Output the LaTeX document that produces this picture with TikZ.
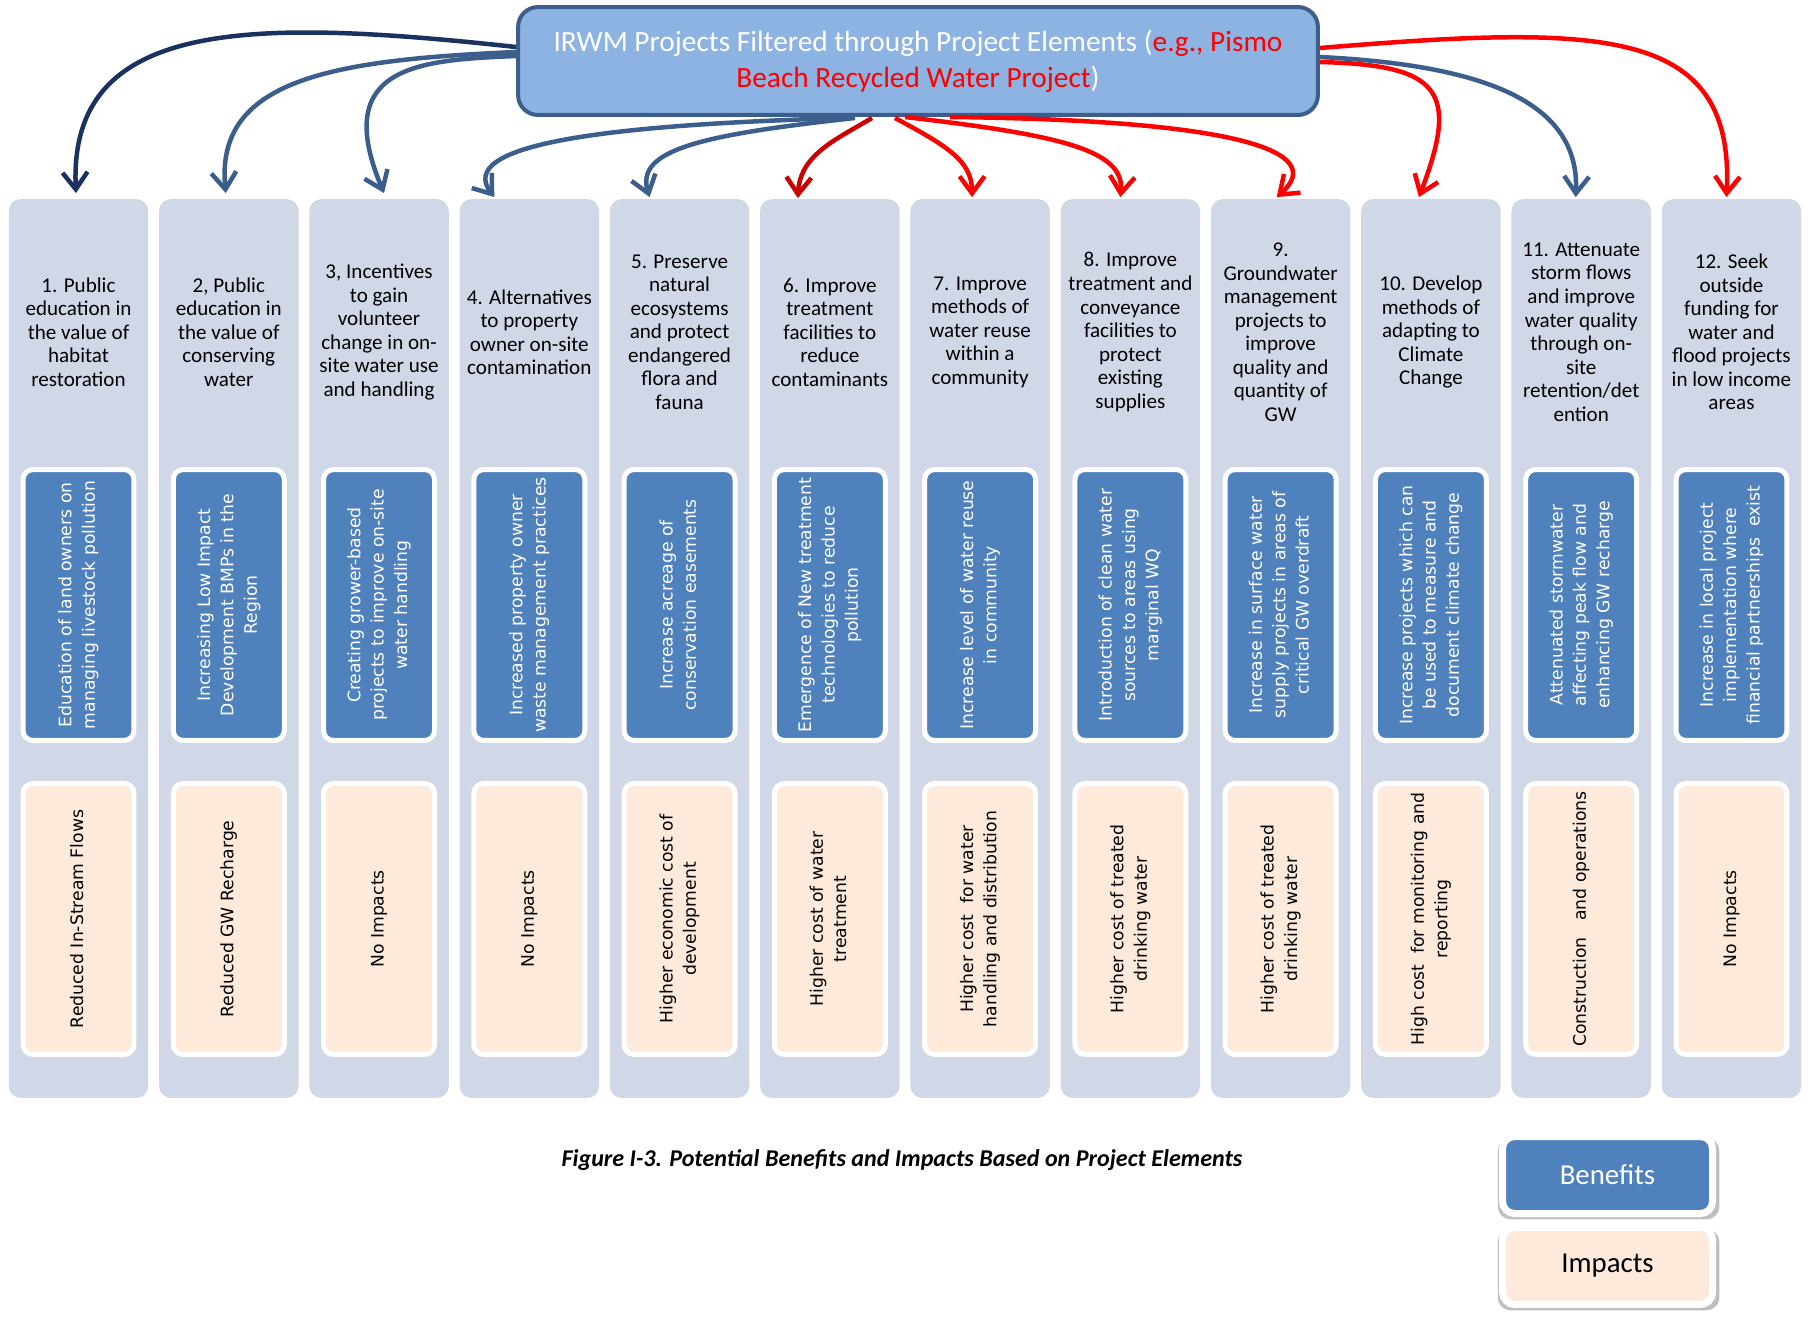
\documentclass[tikz,border=0pt]{standalone}
\usepackage{fontspec}
\setmainfont{Carlito}
\newfontfamily\boxfont{DejaVu Sans}
\usepackage{xcolor}
\usepackage{graphicx}
\usetikzlibrary{positioning}
\usetikzlibrary{calc}
\usetikzlibrary{arrows.meta}
\usetikzlibrary{shadows}

\definecolor{TitleFill}{HTML}{8DB3E2}
\definecolor{TitleLine}{HTML}{3B5E8C}
\definecolor{ColumnFill}{HTML}{D0D8E8}
\definecolor{BenefitFill}{HTML}{4F81BD}
\definecolor{ImpactFill}{HTML}{FDEADA}
\definecolor{NavyArrow}{HTML}{1B3160}
\definecolor{SteelArrow}{HTML}{3B5E8C}
\definecolor{DarkRed}{HTML}{CC0000}

\newcommand{\uptext}[1]{\rotatebox{90}{\begin{tabular}{@{}c@{}}#1\end{tabular}}}

\tikzset{
	column/.style={fill=ColumnFill, rounded corners=0.24cm, minimum width=2.79cm,
		minimum height=17.98cm, inner sep=0pt, outer sep=0pt},
	heading/.style={align=center, inner sep=0pt, font=\fontsize{12}{13.4}\selectfont},
	benefit/.style={draw=white, line width=0.1cm, fill=BenefitFill, rounded corners=0.2cm,
		minimum width=2.22cm, minimum height=5.42cm, inner sep=0pt, text=white,
		font=\boxfont\fontsize{9.8}{13.3}\selectfont},
	impact/.style={benefit, fill=ImpactFill, text=black},
	legendBox/.style={draw=white, line width=0.14cm, rounded corners=0.24cm,
		minimum width=4.2cm, minimum height=1.54cm,
		drop shadow={shadow scale=1.055, shadow xshift=0.02cm, shadow yshift=-0.07cm,
			opacity=0.25, fill=black},
		font=\fontsize{16.4}{19}\selectfont},
	arrowBase/.style={line width=0.09cm, -{Straight Barb[length=0.34cm, width=0.5cm]}},
	navyArrow/.style={arrowBase, draw=NavyArrow},
	steelArrow/.style={arrowBase, draw=SteelArrow},
	redArrow/.style={arrowBase, draw=red},
	darkRedArrow/.style={arrowBase, draw=DarkRed}
}

\begin{document}
\begin{tikzpicture}[x=0.02cm, y=-0.02cm]

\fill[white] (0,0) rectangle (1812,1316);
\useasboundingbox (0,0) rectangle (1812,1316);

\node[
	draw=TitleLine,
	line width=0.08cm,
	fill=TitleFill,
	rounded corners=0.4cm,
	minimum width=16cm,
	minimum height=2.16cm,
	text=white,
	align=center,
	font=\fontsize{16.7}{20.5}\selectfont
] (title) at (918,61) {IRWM Projects Filtered through Project Elements (\textcolor{red}{e.g., Pismo}\\\textcolor{red}{Beach Recycled Water Project})};

% columns
\node[column] (col1) at (78.5,648.5) {};
\node[column, right=0.216cm of col1] (col2) {};
\node[column, right=0.216cm of col2] (col3) {};
\node[column, right=0.216cm of col3] (col4) {};
\node[column, right=0.216cm of col4] (col5) {};
\node[column, right=0.216cm of col5] (col6) {};
\node[column, right=0.216cm of col6] (col7) {};
\node[column, right=0.216cm of col7] (col8) {};
\node[column, right=0.216cm of col8] (col9) {};
\node[column, right=0.216cm of col9] (col10) {};
\node[column, right=0.216cm of col10] (col11) {};
\node[column, right=0.216cm of col11] (col12) {};

% project elements
\node[heading] (head1) at ($(col1.north)+(0,133)$) {1. Public\\education in\\the value of\\habitat\\restoration};
\node[heading] (head2) at ($(col2.north)+(0,133)$) {2, Public\\education in\\the value of\\conserving\\water};
\node[heading] (head3) at ($(col3.north)+(0,133)$) {3, Incentives\\to gain\\volunteer\\change in on-\\site water use\\and handling};
\node[heading] (head4) at ($(col4.north)+(0,133)$) {4. Alternatives\\to property\\owner on-site\\contamination};
\node[heading] (head5) at ($(col5.north)+(0,133)$) {5. Preserve\\natural\\ecosystems\\and protect\\endangered\\flora and\\fauna};
\node[heading] (head6) at ($(col6.north)+(0,133)$) {6. Improve\\treatment\\facilities to\\reduce\\contaminants};
\node[heading] (head7) at ($(col7.north)+(0,133)$) {7. Improve\\methods of\\water reuse\\within a\\community};
\node[heading] (head8) at ($(col8.north)+(0,133)$) {8. Improve\\treatment and\\conveyance\\facilities to\\protect\\existing\\supplies};
\node[heading] (head9) at ($(col9.north)+(0,133)$) {9.\\Groundwater\\management\\projects to\\improve\\quality and\\quantity of\\GW};
\node[heading] (head10) at ($(col10.north)+(0,133)$) {10. Develop\\methods of\\adapting to\\Climate\\Change};
\node[heading] (head11) at ($(col11.north)+(0,133)$) {11. Attenuate\\storm flows\\and improve\\water quality\\through on-\\site\\retention/det\\ention};
\node[heading] (head12) at ($(col12.north)+(0,133)$) {12. Seek\\outside\\funding for\\water and\\flood projects\\in low income\\areas};

% benefits
\node[benefit, below=5.36cm of col1.north] (ben1) {\uptext{Education of land owners on\\managing livestock pollution}};
\node[benefit, below=5.36cm of col2.north] (ben2) {\uptext{Increasing Low Impact\\Development BMPs in the\\Region}};
\node[benefit, below=5.36cm of col3.north] (ben3) {\uptext{Creating grower-based\\projects to improve on-site\\water handling}};
\node[benefit, below=5.36cm of col4.north] (ben4) {\uptext{Increased property owner\\waste management practices}};
\node[benefit, below=5.36cm of col5.north] (ben5) {\uptext{Increase acreage of\\conservation easements}};
\node[benefit, below=5.36cm of col6.north] (ben6) {\uptext{Emergence of New treatment\\technologies to reduce\\pollution}};
\node[benefit, below=5.36cm of col7.north] (ben7) {\uptext{Increase level of water reuse\\in community}};
\node[benefit, below=5.36cm of col8.north] (ben8) {\uptext{Introduction of clean water\\sources to areas using\\marginal WQ}};
\node[benefit, below=5.36cm of col9.north] (ben9) {\uptext{Increase in surface water\\supply projects in areas of\\critical GW overdraft}};
\node[benefit, below=5.36cm of col10.north] (ben10) {\uptext{Increase projects which can\\be used to measure and\\document climate change}};
\node[benefit, below=5.36cm of col11.north] (ben11) {\uptext{Attenuated stormwater\\affecting peak flow and\\enhancing GW recharge}};
\node[benefit, below=5.36cm of col12.north] (ben12) {\uptext{Increase in local project\\implementation where\\financial partnerships~ exist}};

% impacts
\node[impact, below=0.76cm of ben1] (imp1) {\uptext{Reduced In-Stream Flows}};
\node[impact, below=0.76cm of ben2] (imp2) {\uptext{Reduced GW Recharge}};
\node[impact, below=0.76cm of ben3] (imp3) {\uptext{No Impacts}};
\node[impact, below=0.76cm of ben4] (imp4) {\uptext{No Impacts}};
\node[impact, below=0.76cm of ben5] (imp5) {\uptext{Higher economic cost of\\development}};
\node[impact, below=0.76cm of ben6] (imp6) {\uptext{Higher cost of water\\treatment}};
\node[impact, below=0.76cm of ben7] (imp7) {\uptext{Higher cost~ for water\\handling and distribution}};
\node[impact, below=0.76cm of ben8] (imp8) {\uptext{Higher cost of treated\\drinking water}};
\node[impact, below=0.76cm of ben9] (imp9) {\uptext{Higher cost of treated\\drinking water}};
\node[impact, below=0.76cm of ben10] (imp10) {\uptext{High cost~ for monitoring and\\reporting}};
\node[impact, below=0.76cm of ben11] (imp11) {\uptext{Construction~~ and operations}};
\node[impact, below=0.76cm of ben12] (imp12) {\uptext{No Impacts}};

% caption and legend
\node[font=\fontsize{13.7}{16}\selectfont\bfseries\itshape] (caption) at (902,1160)
	{Figure I-3. Potential Benefits and Impacts Based on Project Elements};
\node[legendBox, fill=BenefitFill, text=white] (legendBen) at (1607.5,1175) {Benefits};
\node[legendBox, fill=ImpactFill, below=0.14cm of legendBen] (legendImp) {Impacts};

% ---

\draw[navyArrow] ($(title.west)+(0,-14)$) .. controls (250,18) and (68,18) .. ($(col1.north)+(-2.5,-6)$);
\draw[steelArrow] ($(title.west)+(0,-9)$) .. controls (330,60) and (215,80) .. ($(col2.north)+(-3,-6)$);
\draw[steelArrow] ($(title.west)+(0,-5)$) .. controls (420,60) and (330,65) .. ($(col3.north)+(5,-6)$);
\draw[steelArrow] ($(title.south)+(-73,1)$) .. controls (600,125) and (455,145) .. ($(col4.north)+(-35,-2)$);
\draw[steelArrow] ($(title.south)+(-63,1)$) .. controls (700,135) and (635,150) .. ($(col5.north)+(-30,-2)$);
\draw[darkRedArrow] ($(title.south)+(-46,1)$) .. controls (835,140) and (800,155) .. ($(col6.north)+(-32,-1)$);
\draw[redArrow] ($(title.south)+(-23,1)$) .. controls (945,145) and (972,160) .. ($(col7.north)+(-8,-2)$);
\draw[redArrow] ($(title.south)+(-13,0)$) .. controls (1060,135) and (1125,150) .. ($(col8.north)+(-10,-2)$);
\draw[redArrow] ($(title.south)+(32,0)$) .. controls (1230,120) and (1330,150) .. ($(col9.north)+(-4,-2)$);
\draw[redArrow] ($(title.east)+(0,1)$) .. controls (1440,65) and (1460,90) .. ($(col10.north)+(-12,-2)$);
\draw[steelArrow] ($(title.east)+(0,-4)$) .. controls (1480,65) and (1580,100) .. ($(col11.north)+(-5.5,-2)$);
\draw[redArrow] ($(title.east)+(0,-13)$) .. controls (1600,25) and (1735,25) .. ($(col12.north)+(-5,-2)$);

\end{tikzpicture}
\end{document}
